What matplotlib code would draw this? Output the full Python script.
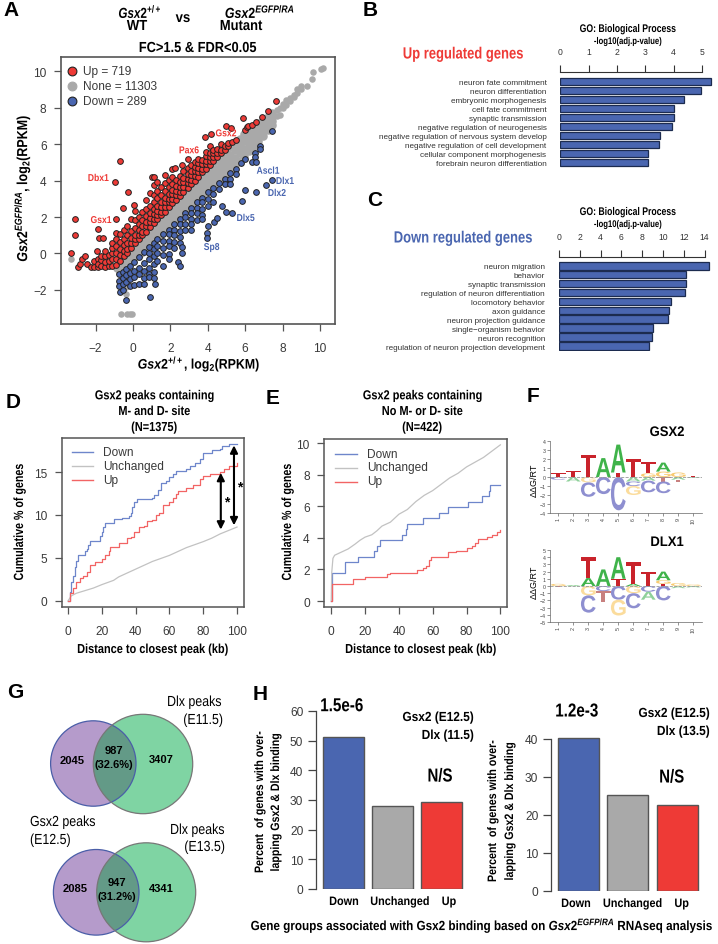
import matplotlib
matplotlib.use('Agg')
import matplotlib.pyplot as plt
from matplotlib.patches import Circle, PathPatch
from matplotlib.patheffects import AbstractPathEffect
from matplotlib.text import Text
from matplotlib.textpath import TextPath
from matplotlib.font_manager import FontProperties
from matplotlib.transforms import Affine2D, Bbox

W, H = 718, 945
SANS = ['Liberation Sans', 'DejaVu Sans']
plt.rcParams['font.family'] = SANS
plt.rcParams['mathtext.fontset'] = 'custom'
plt.rcParams['mathtext.rm'] = 'Liberation Sans:bold'
plt.rcParams['mathtext.bf'] = 'Liberation Sans:bold'
plt.rcParams['mathtext.it'] = 'Liberation Sans:italic:bold'

RED, BLUE, GREY = '#ee3a36', '#4a66b0', '#a9a9a9'
TXT = '#3a3a3a'

# ---------- A: scatter values ----------
none_band = [
    (-0.85, [-0.8]), (-0.7, [-0.6, -0.85, -1.0]), (-0.55, [-0.3, -0.6, -0.85, -1.0]), (-0.4, [-0.1, -0.4, -0.7]),
    (-0.25, [0.1, -0.2, -0.5]), (-0.05, [0.3, 0.05, -0.3]), (0.2, [0.6, 0.3, 0.0, -0.15]), (0.45, [0.85, 0.55, 0.3, 0.05]),
    (0.7, [1.15, 0.85, 0.55, 0.3]), (0.95, [1.4, 1.1, 0.8, 0.55]), (1.2, [1.7, 1.35, 1.05, 0.8]),
    (1.45, [1.95, 1.6, 1.3, 1.0]), (1.7, [2.2, 1.85, 1.55, 1.25]), (1.95, [2.45, 2.1, 1.8, 1.45]),
    (2.2, [2.7, 2.35, 2.05, 1.7]), (2.45, [3.0, 2.65, 2.3, 1.95]), (2.7, [3.25, 2.9, 2.55, 2.2]),
    (2.95, [3.5, 3.15, 2.8, 2.45]), (3.2, [3.75, 3.4, 3.05, 2.7]), (3.45, [4.0, 3.65, 3.3, 2.95]),
    (3.7, [4.3, 3.9, 3.55, 3.2]), (3.95, [4.55, 4.15, 3.8, 3.45]), (4.2, [4.8, 4.4, 4.05, 3.65]),
    (4.45, [5.05, 4.65, 4.3, 3.9]), (4.7, [5.3, 4.9, 4.5, 4.15]), (4.95, [5.55, 5.15, 4.75, 4.4]),
    (5.2, [5.85, 5.4, 5.0, 4.65]), (5.45, [6.1, 5.65, 5.25, 4.85]), (5.7, [6.3, 5.9, 5.5, 5.1]),
    (5.95, [6.55, 6.15, 5.75, 5.35]), (6.2, [6.7, 6.4, 6.0, 5.6]), (6.45, [6.9, 6.6, 6.25, 5.9]),
    (6.7, [7.15, 6.85, 6.5, 6.15]), (6.95, [7.35, 7.1, 6.75, 6.45]), (7.2, [7.5, 7.3, 7.0, 6.75]),
    (7.45, [7.7, 7.5, 7.25, 7.05]),
]
none_tail = [
    (7.7, [7.85, 7.55]), (7.85, [8.0, 7.6]), (8.05, [8.2, 8.0]), (8.2, [8.4, 8.15]), (8.4, [8.55, 8.35]),
    (8.6, [8.7, 8.6]), (8.8, [9.0, 8.8]), (9.0, [9.18, 9.0]), (9.3, [9.2]), (9.55, [9.58]),
    (9.64, [9.98]), (10.05, [10.1]), (10.17, [10.18]),
    (-0.66, [-3.32]), (-0.34, [-3.32]), (-0.16, [-3.32]), (-0.04, [-3.32]),
    (-0.4, [-1.85, -2.2]), (-3.34, [-0.3]),
]
up_cols = [
    (-2.96, [-0.72]), (-2.84, [-0.57]), (-2.75, [-0.3]), (-2.55, [-0.12]), (-2.48, [-0.57]), (-2.27, [-0.72]),
    (-3.34, [0.05]), (-3.1, [1.0]), (-3.09, [1.91]), (-1.93, [0.16]), (-1.89, [1.35]), (-1.8, [0.83]), (-1.6, [0.87]),
    (-2.1, [-0.72, -0.42]), (-1.9, [-0.75, -0.28, -0.56]), (-1.7, [-0.7, -0.38, -0.12]),
    (-1.5, [-0.72, -0.47, -0.15, 0.12]), (-1.3, [-0.7, -0.41, -0.08]), (-1.1, [-0.7, -0.33, 0.02, 0.32, 0.58]),
    (-0.97, [3.94]), (-0.9, [-0.62, -0.28, 0.05, 0.43, 0.8, 1.14, 1.9]), (-0.7, [-0.4, -0.08, 0.26, 0.63, 1.07, 5.1]),
    (-0.56, [2.5]), (-0.5, [-0.15, 0.11, 0.47, 0.82, 1.27]), (-0.3, [0.05, 0.27, 0.6, 1.03, 1.52]),
    (-0.25, [3.36]), (-0.1, [0.3, 0.55, 0.85, 1.22, 1.88]), (0.07, [2.66]),
    (0.1, [0.55, 0.82, 1.04, 1.42, 1.85, 2.32]), (0.3, [0.8, 1.0, 1.3, 1.64, 2.0]),
    (0.5, [1.0, 1.2, 1.5, 1.82, 2.27]), (0.7, [1.2, 1.5, 1.75, 2.03, 2.42, 2.92]),
    (0.9, [1.45, 1.7, 1.95, 2.22, 2.63, 3.32]), (1.0, [4.22]), (1.12, [4.18]),
    (1.1, [1.65, 1.9, 2.15, 2.45, 2.82, 3.22, 3.76]), (1.3, [1.9, 2.1, 2.35, 2.63, 3.03, 3.42, 3.9]),
    (1.5, [2.1, 2.3, 2.55, 2.85, 3.23, 3.63]), (1.69, [4.33]), (1.7, [2.3, 2.55, 2.8, 3.04, 3.42, 3.85]),
    (1.9, [2.55, 2.8, 3.0, 3.25, 3.62, 4.02]), (2.1, [2.75, 3.0, 3.25, 3.5, 3.83, 4.22, 4.62]),
    (2.22, [4.68]), (2.3, [2.95, 3.2, 3.45, 3.7, 4.03]), (2.5, [3.15, 3.4, 3.65, 3.9, 4.27]),
    (2.6, [4.88]), (2.7, [3.4, 3.65, 3.9, 4.15, 4.55]), (2.92, [3.6, 3.85, 4.1, 4.35, 4.67, 5.17]),
    (3.1, [3.8, 4.05, 4.3, 4.55, 4.87]), (3.3, [4.0, 4.25, 4.5, 4.75, 5.02]),
    (3.5, [4.22, 4.45, 4.7, 4.95, 5.2]), (3.7, [4.45, 4.65, 4.9, 5.15]),
    (3.85, [6.38]), (3.9, [4.65, 4.9, 5.1, 5.35, 5.55]), (4.1, [4.85, 5.1, 5.3, 5.5, 5.92]), (4.15, [6.56]),
    (4.3, [5.05, 5.3, 5.5, 5.7]), (4.5, [5.3, 5.5, 5.75]), (4.7, [5.5, 5.7, 6.02]),
    (4.9, [5.7, 5.9]), (4.95, [6.98]), (5.1, [5.9, 6.07]), (5.25, [6.87]),
    (5.3, [6.1]), (5.5, [6.25]), (5.91, [7.46]), (5.98, [6.8]), (6.1, [6.93]),
    (6.16, [7.0]), (6.34, [7.05]), (6.6, [7.24]), (6.88, [7.49]), (7.22, [7.82]), (7.64, [8.34]),
]
down_cols = [
    (-0.75, [-1.1, -1.5, -1.8]), (-0.68, [-2.09]), (-0.55, [-1.0, -1.35, -1.65, -2.0]), (-0.36, [-2.53]),
    (-0.35, [-0.85, -1.2, -1.55]), (-0.15, [-0.7, -1.05, -1.4, -1.8]), (0.05, [-0.45, -0.95, -1.3, -1.72]),
    (0.3, [-0.2, -0.8, -1.15, -1.7]), (0.6, [0.1, -0.55, -0.95, -1.35, -1.68]), (0.85, [0.35, 0.0, -0.3, -0.8, -1.1, -1.3]),
    (0.89, [-2.39]), (1.1, [0.6, 0.25, -0.15, -0.6, -1.0, -1.35]), (1.16, [-1.67]), (1.3, [0.8, 0.4, 0.05, -0.4]),
    (1.6, [1.05, 0.7, 0.3, -0.1, -0.7]), (1.9, [1.3, 1.05, 0.7, 0.4, -0.05, -0.3]), (2.2, [1.6, 1.3, 1.0, 0.65, 0.3]),
    (2.42, [-0.48]), (2.54, [-0.7]), (2.5, [1.9, 1.6, 1.25, 0.9, 0.55]), (2.6, [0.34, 0.03]), (2.8, [2.2, 2.0, 1.6, 1.3]),
    (3.1, [2.5, 2.2, 1.9, 1.6, 1.3]), (3.4, [2.8, 2.5, 2.2, 1.85]), (3.7, [3.05, 2.8, 2.45, 2.1, 1.9]), (3.95, [1.11, 0.83]),
    (4.0, [3.35, 3.0, 2.6]), (4.03, [1.53]), (4.3, [3.6, 3.25, 2.8]), (4.34, [1.71]), (4.47, [1.93]),
    (4.6, [3.85, 3.55]), (4.74, [2.59]), (4.9, [4.1, 3.8]), (4.97, [2.26]), (5.2, [4.4, 4.1, 3.8]),
    (5.3, [2.22]), (5.5, [4.65, 4.35]), (5.84, [2.9]), (5.8, [4.95]), (5.97, [3.49]), (5.99, [5.19]),
    (6.34, [5.0]), (6.52, [5.5, 5.28]), (6.57, [3.36]), (6.6, [5.0]), (6.79, [5.92]), (6.82, [5.74]),
    (7.09, [3.76]), (7.41, [4.02]), (7.43, [6.73]),
]
legend_a = ['Up = 719', 'None = 11303', 'Down = 289']
gene_up = [('Gsx2', 226, 134.3), ('Pax6', 189, 151.3), ('Dbx1', 98.3, 179), ('Gsx1', 101, 221)]
gene_down = [('Ascl1', 268, 171.7), ('Dlx1', 285, 182), ('Dlx2', 277, 194), ('Dlx5', 245.7, 219), ('Sp8', 211.7, 248)]

# ---------- B / C ----------
go_up_terms = ['neuron fate commitment', 'neuron differentiation', 'embryonic morphogenesis', 'cell fate commitment',
               'synaptic transmission', 'negative regulation of neurogenesis',
               'negative regulation of nervous system develop', 'negative regulation of cell development',
               'cellular component morphogenesis', 'forebrain neuron differentiation']
go_up_vals = [5.32, 4.96, 4.36, 4.01, 4.01, 3.93, 3.53, 3.5, 3.09, 3.08]
go_down_terms = ['neuron migration', 'behavior', 'synaptic transmission', 'regulation of neuron differentiation',
                 'locomotory behavior', 'axon guidance', 'neuron projection guidance', 'single\u2212organism behavior',
                 'neuron recognition', 'regulation of neuron projection development']
go_down_vals = [14.4, 12.2, 12.2, 12.08, 10.8, 10.55, 10.48, 9.0, 8.9, 8.65]

# ---------- D / E ----------
d_down_x = [0, 1, 2, 3, 4, 5, 6, 10, 11, 12, 13, 19, 20, 21, 22, 27, 32, 36, 37, 38, 39, 41, 50, 51, 53, 55, 58, 60, 62, 64, 70, 72, 75, 78, 80, 85, 90, 91, 95, 100]
d_down_y = [0, 1, 2.2, 2.9, 4.0, 4.7, 5.3, 5.8, 6.1, 6.5, 7.0, 7.6, 8.0, 8.6, 9.1, 9.5, 9.6, 9.9, 10.2, 10.9, 11.5, 11.9, 12.0, 12.3, 12.9, 13.7, 14.0, 14.4, 14.8, 15.1, 15.4, 15.7, 16.0, 16.5, 17.2, 17.6, 17.7, 18.0, 18.2, 18.2]
d_up_x = [0, 1, 3, 5, 7, 9, 11, 13, 16, 20, 22, 24, 25, 30, 32, 35, 37, 39, 42, 45, 47, 50, 52, 54, 56, 60, 62, 64, 65, 70, 74, 78, 80, 84, 90, 92, 95, 100]
d_up_y = [0, 0.9, 1.5, 2.2, 2.7, 2.9, 3.4, 4.2, 4.5, 4.9, 5.3, 5.8, 6.3, 6.7, 6.8, 7.3, 7.4, 8.0, 8.6, 8.7, 9.3, 9.4, 10.0, 10.2, 11.2, 11.5, 12.0, 12.5, 12.8, 13.1, 13.5, 14.2, 14.5, 14.8, 15.0, 15.4, 15.7, 16.0]
d_same_x = [0, 2, 5, 10, 15, 20, 27, 30, 40, 50, 60, 70, 80, 85, 90, 100]
d_same_y = [0, 0.6, 0.9, 1.2, 1.5, 1.9, 2.4, 2.8, 3.7, 4.6, 5.3, 6.2, 6.9, 7.3, 7.8, 8.6]
e_down_x = [0, 0.3, 8, 16, 25, 27, 29, 42, 44, 45, 54, 64, 69, 81, 89, 93, 94, 100]
e_down_y = [0, 1.75, 2.45, 2.8, 3.15, 3.5, 3.85, 4.2, 4.55, 4.9, 5.25, 5.6, 5.95, 6.3, 6.65, 7.0, 7.35, 7.35]
e_up_x = [0, 0.5, 13, 20, 33, 35, 51, 54, 56, 58, 59, 69, 74, 80, 83, 85, 87, 92, 95, 98, 100]
e_up_y = [0, 1.1, 1.4, 1.55, 1.7, 1.8, 1.95, 2.1, 2.25, 2.6, 2.8, 3.1, 3.2, 3.35, 3.5, 3.7, 3.9, 4.05, 4.2, 4.35, 4.5]
e_same_x = [0, 0.3, 1, 2, 5, 10, 14, 17, 20, 24, 27, 30, 35, 40, 45, 50, 55, 60, 65, 70, 75, 80, 85, 90, 95, 100]
e_same_y = [0, 1.8, 2.7, 2.9, 3.05, 3.3, 3.6, 3.85, 4.05, 4.2, 4.45, 4.75, 5.0, 5.5, 5.8, 6.3, 6.7, 7.0, 7.4, 7.8, 8.1, 8.5, 8.8, 9.1, 9.5, 9.9]
curve_labels = ['Down', 'Unchanged', 'Up']

# ---------- F: logo letter heights ----------
gsx2_above = [[('T', .4)], [('T', .7)], [('T', 2.5)], [('A', 2.1)], [('T', .5), ('A', 3.1)], [('T', 2.0)],
              [('G', .4), ('T', 1.3)], [('G', .6), ('A', 1.0)], [('G', .5)], [('T', .1)]]
gsx2_below = [[('C', .3)], [('A', .5)], [('G', .6), ('C', 1.6)], [('C', 1.9)], [('C', 3.7)],
              [('A', .5), ('C', .5), ('G', 1.0)], [('A', .4), ('C', 1.3)], [('T', .5), ('C', 1.3)],
              [('A', .3), ('T', .2)], [('A', .1)]]
dlx1_above = [[('G', .3)], [('A', .1)], [('A', 1.1), ('T', 2.9)], [('A', 2.3)], [('T', 1.0), ('A', 3.0)],
              [('A', .3), ('T', 3.0)], [('T', 2.0)], [('T', .3), ('G', .5), ('A', 1.2)], [('G', .4)], [('G', .2)]]
dlx1_below = [[('T', .2)], [('A', .05)], [('G', 1.3), ('C', 2.4)], [('C', .7), ('T', 1.5)], [('C', 1.9), ('G', 2.2)],
              [('G', 1.0), ('C', 2.1)], [('C', .8), ('A', 1.1)], [('C', 2.0)], [('A', .3)], [('A', .2)]]
letter_colors = {'T': '#c9232b', 'A': '#3fb34a', 'C': '#8e8fd0', 'G': '#f8cb72'}
faded_colors = {'T': '#c8807f', 'A': '#8fd19a', 'C': '#8e8fd0', 'G': '#fbdc9c'}

# ---------- H ----------
bar_labels = ['Down', 'Unchanged', 'Up']
h1_vals = [51.3, 28.1, 29.15]
h2_vals = [40.2, 25.1, 22.5]
bar_colors = [BLUE, GREY, RED]

fig = plt.figure(figsize=(W / 100, H / 100), dpi=100, facecolor='white')


def axpx(x0, y0, x1, y1):
    return fig.add_axes([x0 / W, 1 - y1 / H, (x1 - x0) / W, (y1 - y0) / H])


ov = fig.add_axes([0, 0, 1, 1], zorder=20)
ov.set_xlim(0, W)
ov.set_ylim(H, 0)
ov.axis('off')
ov.patch.set_alpha(0)


class Squeeze(AbstractPathEffect):
    """Condense a text along its reading direction around its anchor."""

    def __init__(self, text, sx):
        super().__init__()
        self.text, self.sx = text, sx

    def draw_path(self, renderer, gc, tpath, affine, rgbFace=None):
        cx, cy = self.text.get_transform().transform(self.text.get_position())
        if self.text.get_rotation() == 90:
            sq = Affine2D().translate(0, -cy).scale(1, self.sx).translate(0, cy)
        else:
            sq = Affine2D().translate(-cx, 0).scale(self.sx, 1).translate(cx, 0)
        renderer.draw_path(gc, tpath, affine + sq, rgbFace)


class NarrowText(Text):
    def get_window_extent(self, renderer=None, dpi=None):
        bb = super().get_window_extent(renderer, dpi)
        cx, cy = self.get_transform().transform(self.get_position())
        s = self.squeeze
        if self.get_rotation() == 90:
            return Bbox([[bb.x0, cy + (bb.y0 - cy) * s], [bb.x1, cy + (bb.y1 - cy) * s]])
        return Bbox([[cx + (bb.x0 - cx) * s, bb.y0], [cx + (bb.x1 - cx) * s, bb.y1]])


def T(x, y, s, size=9, bold=True, sx=1.0, ha='center', color='black', rot=0):
    t = NarrowText(x, y, s, fontsize=size, fontweight='bold' if bold else 'normal', family=SANS, ha=ha, va='center',
                   color=color, rotation=rot, transform=ov.transData)
    t.squeeze = sx
    if sx != 1.0:
        t.set_path_effects([Squeeze(t, sx)])
    ov.add_artist(t)
    return t


def flatten(cols):
    xs, ys = [], []
    for x, vals in cols:
        for v in vals:
            xs.append(x)
            ys.append(v)
    return xs, ys


for s, x, y in [('A', 11, 10), ('B', 370, 10), ('C', 375, 201), ('D', 13, 402), ('E', 273, 398), ('F', 533, 397),
                ('G', 15, 693), ('H', 260, 694)]:
    T(x, y, s, size=15)

# ---------- Panel A ----------
a = axpx(60.5, 58, 334.5, 325)
a.set_xlim(-3.88, 10.78)
a.set_ylim(-3.87, 10.78)
nx, ny = flatten(none_band)
a.scatter(nx, ny, s=38, c=GREY, linewidths=0, zorder=2)
nx, ny = flatten(none_tail)
a.scatter(nx, ny, s=22, c=GREY, linewidths=0, zorder=2)
ux, uy = flatten(up_cols)
a.scatter(ux, uy, s=17, c=RED, edgecolors='#222222', linewidths=0.7, zorder=3)
dx, dy = flatten(down_cols)
a.scatter(dx, dy, s=17, c=BLUE, edgecolors='#222222', linewidths=0.7, zorder=3)
a.set_xticks(range(-2, 11, 2))
a.set_yticks(range(-2, 11, 2))
a.set_xticklabels(['\u22122', '0', '2', '4', '6', '8', '10'])
a.set_yticklabels(['\u22122', '0', '2', '4', '6', '8', '10'])
a.tick_params(axis='x', length=5, width=0.9, color='#555555', labelsize=8.6, labelcolor=TXT, pad=8)
a.tick_params(axis='y', length=5, width=0.9, color='#555555', labelsize=8.6, labelcolor=TXT, pad=5)
for sp in a.spines.values():
    sp.set_color('#555555')
    sp.set_linewidth(1.2)
for lab, px_y, col, edge in zip(legend_a, [72.3, 87.3, 102.3], [RED, GREY, BLUE], ['#222222', GREY, '#222222']):
    ov.scatter([71.7], [px_y], s=40, c=col, edgecolors=edge, linewidths=0.8)
    T(82.7, px_y, lab, size=8.6, bold=False, ha='left', color=TXT)
for g, x, y in gene_up:
    T(x, y, g, size=7.2, sx=0.86, color=RED)
for g, x, y in gene_down:
    T(x, y, g, size=7.2, sx=0.86, color=BLUE)
T(140, 13, r'$\mathit{Gsx2^{+/+}}$', size=10.5, sx=0.8)
T(137, 27, 'WT', size=10.5, sx=0.9)
T(183, 19, 'vs', size=10.5, sx=0.9)
T(260, 13, r'$\mathit{Gsx2^{EGFP/RA}}$', size=10.5, sx=0.85)
T(241, 27, 'Mutant', size=10.5, sx=0.89)
T(198, 49, 'FC>1.5 & FDR<0.05', size=10.5, sx=0.88)
T(199, 364.5, r'$\mathit{Gsx2^{+/+}}$, log$_2$(RPKM)', size=10, sx=0.89)
T(22, 189, r'$\mathit{Gsx2^{EGFP/RA}}$, log$_2$(RPKM)', size=10.5, sx=0.857, rot=90)


# ---------- Panels B, C ----------
def go_panel(vals, terms, ticks, x0, xr, xmax, ytop, ybot, first, pitch):
    ax = axpx(x0, ytop, xr, ybot)
    ax.set_xlim(0, xmax)
    ax.set_ylim((ybot - first) / pitch, (ytop - first) / pitch)
    ax.barh(range(len(vals)), vals, height=7.6 / pitch, color=BLUE, edgecolor='#1c2b4f', linewidth=0.9)
    ax.xaxis.tick_top()
    ax.set_xticks(ticks)
    ax.tick_params(axis='x', length=5, width=0.8, color='#333333', labelsize=6.2, labelcolor='#333333', pad=6)
    ax.set_yticks(range(len(vals)))
    ax.set_yticklabels(terms)
    ax.tick_params(axis='y', length=0, labelsize=5.9, labelcolor='#333333', pad=10)
    for side in ['left', 'right', 'bottom']:
        ax.spines[side].set_visible(False)
    ax.spines['top'].set_bounds(0, ticks[-1])
    ax.spines['top'].set_linewidth(0.8)
    ax.spines['top'].set_color('#333333')
    ax.patch.set_alpha(0)


go_panel(go_up_vals, go_up_terms, [0, 1, 2, 3, 4, 5], 560.3, 715, 5.46, 72.7, 170, 82.3, 9.0)
go_panel(go_down_vals, go_down_terms, [0, 2, 4, 6, 8, 10, 12, 14], 559, 715, 15.0, 257.7, 352, 266.7, 8.93)
T(628, 30, 'GO: Biological Process', size=8, sx=0.78)
T(628, 42, '-log10(adj.p-value)', size=7, sx=0.79)
T(628, 213, 'GO: Biological Process', size=8, sx=0.78)
T(628, 225, '-log10(adj.p-value)', size=7, sx=0.79)
T(463, 55, 'Up regulated genes', size=11.7, sx=0.8, color=RED)
T(463, 239, 'Down regulated genes', size=11.7, sx=0.8, color=BLUE)


# ---------- Panels D, E ----------
def curve_panel(box, xlim, ylim, yticks, cx, lx, ttl):
    ax = axpx(*box)
    ax.set_xlim(*xlim)
    ax.set_ylim(*ylim)
    ax.set_xticks(range(0, 101, 20))
    ax.set_yticks(yticks)
    ax.tick_params(axis='x', length=5, width=0.9, color='#555555', labelsize=8.6, labelcolor=TXT, pad=8)
    ax.tick_params(axis='y', length=5, width=0.9, color='#555555', labelsize=8.6, labelcolor=TXT, pad=5.5)
    for sp in ax.spines.values():
        sp.set_color('#555555')
        sp.set_linewidth(1.1)
    for i, line in enumerate(ttl):
        T(cx, [397.3, 413, 429][i], line, size=9.4, sx=0.84)
    T(lx, 523, 'Cumulative % of genes', size=9.6, sx=0.8, rot=90)
    T(cx - 2, 651, 'Distance to closest peak (kb)', size=9.4, sx=0.84)
    return ax


C_DOWN, C_SAME, C_UP = '#6e86cb', '#c2c2c2', '#f26464'
d = curve_panel((61.7, 438.7, 244.3, 608), (-3.7, 104.3), (-0.7, 18.99), [0, 5, 10, 15], 154, 20,
                ['Gsx2 peaks containing', 'M- and D- site', '(N=1375)'])
d.step(d_down_x, d_down_y, where='post', color=C_DOWN, lw=0.9)
d.plot(d_same_x, d_same_y, color=C_SAME, lw=0.9)
d.step(d_up_x, d_up_y, where='post', color=C_UP, lw=0.9)
for xa, y0, y1 in [(90.4, 14.9, 8.3), (98.2, 18.1, 8.8)]:
    d.annotate('', xy=(xa, y1), xytext=(xa, y0),
               arrowprops=dict(arrowstyle='<|-|>', color='black', lw=1.5, mutation_scale=11, shrinkA=0, shrinkB=0))
T(227, 502, '*', size=10)
T(240, 487.5, '*', size=10)

e = curve_panel((324.3, 440, 507.3, 608), (-4.1, 104.1), (-0.38, 10.27), [0, 2, 4, 6, 8, 10], 422, 288,
                ['Gsx2 peaks containing', 'No M- or D- site', '(N=422)'])
e.step(e_down_x, e_down_y, where='post', color=C_DOWN, lw=0.9)
e.plot(e_same_x, e_same_y, color=C_SAME, lw=0.9)
e.step(e_up_x, e_up_y, where='post', color=C_UP, lw=0.9)

for x0, x1, xt, ys in [(71.5, 93, 103.5, [452.7, 466.7, 480.7]), (335, 357, 367, [454.5, 468.5, 482.5])]:
    for lab, c, y in zip(curve_labels, [C_DOWN, C_SAME, C_UP], ys):
        ov.plot([x0, x1], [y, y], color=c, lw=1)
        T(xt, y, lab, size=8.6, bold=False, ha='left', color=TXT)


# ---------- Panel F ----------
logo_font = FontProperties(family='Liberation Sans', weight='bold')


def letter(ax, ch, x, y, w, h, color):
    tp = TextPath((0, 0), ch, size=1, prop=logo_font)
    bb = tp.get_extents()
    tr = Affine2D().translate(-bb.x0, -bb.y0).scale(w / bb.width, h / bb.height).translate(x - w / 2, y)
    ax.add_patch(PathPatch(tp, transform=tr + ax.transData, facecolor=color, edgecolor='none'))


def logo(box, ylim, yticks, above, below):
    ax = axpx(*box)
    ax.set_xlim(0.447, 10.58)
    ax.set_ylim(*ylim)
    ax.axhline(0, color='#999999', lw=0.6, ls='--')
    for i in range(10):
        base = 0
        for ch, h in above[i]:
            letter(ax, ch, i + 1, base, 0.98, h, letter_colors[ch])
            base += h
        base = 0
        for ch, h in below[i]:
            base -= h
            letter(ax, ch, i + 1, base, 0.98, h, faded_colors[ch])
    ax.set_xticks(range(1, 11))
    ax.set_yticks(yticks)
    ax.tick_params(length=2, width=0.5, labelsize=3.8, pad=1, color='#666666', labelcolor='#444444')
    ax.tick_params(axis='x', labelrotation=90)
    for side in ['top', 'right']:
        ax.spines[side].set_visible(False)
    for side in ['left', 'bottom']:
        ax.spines[side].set_linewidth(0.5)
        ax.spines[side].set_color('#666666')
    ax.patch.set_alpha(0)


logo((550, 442, 702, 514), (-4, 4), list(range(-4, 5)), gsx2_above, gsx2_below)
logo((550, 551, 702, 623), (-5, 5), list(range(-5, 6)), dlx1_above, dlx1_below)
T(667, 433, 'GSX2', size=10, sx=0.94)
T(667, 543, 'DLX1', size=10, sx=0.94)
T(534, 480, '\u0394\u0394G/RT', size=6.5, bold=False, rot=90)
T(534, 582, '\u0394\u0394G/RT', size=6.5, bold=False, rot=90)

# ---------- Panel G ----------
PURPLE, GREEN, OVER = '#b59bcb', '#7fd4a3', '#639a87'
venns = [(93.3, 764.5, 42.7, 143, 765, 49.7), (96.2, 893.3, 42.8, 146.2, 893.3, 49.5)]
for px_, py_, pr, gx, gy, gr in venns:
    ov.add_patch(Circle((px_, py_), pr, fc=PURPLE, ec='none'))
    g = Circle((gx, gy), gr, fc=GREEN, ec='none')
    ov.add_patch(g)
    clipc = Circle((gx, gy), gr, transform=ov.transData)
    o = Circle((px_, py_), pr, fc=OVER, ec='none')
    ov.add_patch(o)
    o.set_clip_path(clipc)
    ov.add_patch(Circle((px_, py_), pr, fc='none', ec='#4a5ea8', lw=0.9))
    ov.add_patch(Circle((gx, gy), gr, fc='none', ec='#777777', lw=0.9))
for s, x, y in [('2045', 72, 761), ('987', 114, 751), ('(32.6%)', 114, 765), ('3407', 161, 760),
                ('2085', 75, 889), ('947', 117, 883), ('(31.2%)', 117, 897), ('4341', 161, 889)]:
    T(x, y, s, size=8)
for s, x, y, ha in [('Dlx peaks', 222, 703, 'right'), ('(E11.5)', 223, 721, 'right'), ('Gsx2 peaks', 30, 823, 'left'),
                    ('(E12.5)', 30, 841, 'left'), ('Dlx peaks', 225, 831, 'right'), ('(E13.5)', 225, 848, 'right')]:
    T(x, y, s, size=10.5, bold=False, sx=0.85, ha=ha)


# ---------- Panel H ----------
def bar_panel(vals, box, xlim, ylim, yticks):
    ax = axpx(*box)
    ax.set_xlim(*xlim)
    ax.set_ylim(*ylim)
    ax.bar(range(3), vals, width=0.83, color=bar_colors, edgecolor='#555555', linewidth=1)
    ax.set_xticks([])
    ax.set_yticks(yticks)
    ax.tick_params(axis='y', length=6, width=0.9, color='#444444', labelsize=8.6, labelcolor=TXT, pad=3)
    for side in ['top', 'right', 'bottom']:
        ax.spines[side].set_visible(False)
    ax.spines['left'].set_bounds(0, yticks[-1])
    ax.spines['left'].set_color('#444444')
    ax.spines['left'].set_linewidth(0.9)
    ax.patch.set_alpha(0)


bar_panel(h1_vals, (315.7, 700, 470, 890), (-0.558, 2.572), (0, 63.98), [0, 10, 20, 30, 40, 50, 60])
bar_panel(h2_vals, (550.7, 720, 705, 892), (-0.564, 2.566), (0, 45.14), [0, 10, 20, 30, 40])
for lab, x in zip(bar_labels, [344, 400, 449]):
    T(x, 903, lab, size=8.8, sx=0.89)
for lab, x in zip(bar_labels, [576, 632.7, 681.7]):
    T(x, 905, lab, size=8.8, sx=0.89)
T(341.7, 707.7, '1.5e-6', size=13.5, sx=0.81)
T(576.7, 713, '1.2e-3', size=13.5, sx=0.81)
T(440, 778, 'N/S', size=13.5, sx=0.8)
T(671.7, 779, 'N/S', size=13.5, sx=0.8)
T(474, 719, 'Gsx2 (E12.5)', size=9.5, sx=0.9, ha='right')
T(474, 737, 'Dlx (11.5)', size=9.5, sx=0.9, ha='right')
T(710, 715, 'Gsx2 (E12.5)', size=9.5, sx=0.9, ha='right')
T(710, 733, 'Dlx (13.5)', size=9.5, sx=0.9, ha='right')
T(260, 803, 'Percent  of genes with over-', size=8.8, sx=0.87, rot=90)
T(276, 803, 'lapping Gsx2 & Dlx binding', size=8.8, sx=0.87, rot=90)
T(493, 812, 'Percent  of genes with over-', size=8.8, sx=0.87, rot=90)
T(510, 812, 'lapping Gsx2 & Dlx binding', size=8.8, sx=0.87, rot=90)
T(715, 927, r'Gene groups associated with Gsx2 binding based on $\mathit{Gsx2^{EGFP/RA}}$ RNAseq analysis',
  size=9.6, sx=0.878, ha='right')

fig.savefig('out.png', dpi=100, facecolor='white')
